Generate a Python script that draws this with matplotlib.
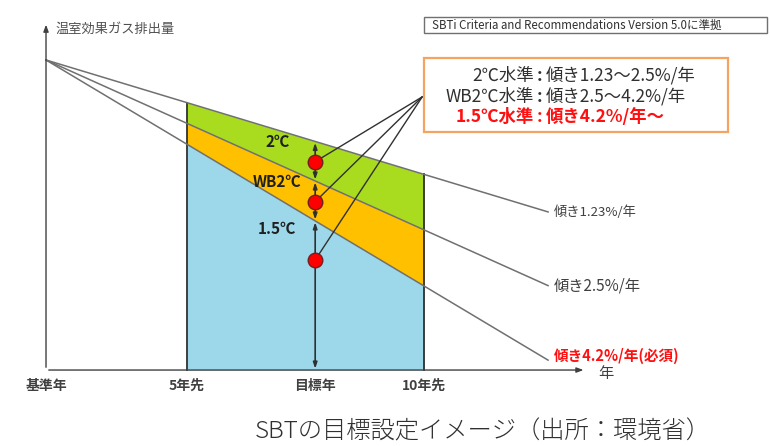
import numpy as np
import matplotlib.pyplot as plt
from matplotlib.patches import Rectangle

plt.rcParams['font.family'] = ['Noto Sans CJK JP', 'DejaVu Sans']

# x: 0 = base year, 10 = 10 years ahead (schematic spacing)
tick_pos = [0, 3.73, 7.12, 10]
tick_labels = ['基準年', '5年先', '目標年', '10年先']
base_level = 100
# emission level reached at x=10 for each pathway
level_at_10 = [63.1, 45.2, 27.1]
slope_labels = ['傾き1.23%/年', '傾き2.5%/年', '傾き4.2%/年(必須)']
line_end = 13.28
band_colors = ['#a9dc1e', '#ffc000', '#9dd8ea']
band_labels = ['2℃', 'WB2℃', '1.5℃']
dot_levels = [67.2, 54.3, 35.5]
legend_left = ['2℃水準', 'WB2℃水準', '1.5℃水準']
legend_right = ['傾き1.23～2.5%/年', '傾き2.5～4.2%/年', '傾き4.2%/年～']


def level(i, x):
    return base_level - (base_level - level_at_10[i]) * np.asarray(x) / 10


fig = plt.figure(figsize=(7.7, 4.46), dpi=100)
ax = fig.add_axes([0, 0, 1, 1])
ax.set_xlim(-1.217, 19.15)
ax.set_ylim(-24.5, 119.35)
ax.axis('off')

# coloured bands between 5年先 and 10年先
xs = np.linspace(tick_pos[1], tick_pos[3], 50)
ax.fill_between(xs, level(0, xs), level(1, xs), color=band_colors[0], lw=0, zorder=1)
ax.fill_between(xs, level(1, xs), level(2, xs), color=band_colors[1], lw=0, zorder=1)
ax.fill_between(xs, level(2, xs), 0, color=band_colors[2], lw=0, zorder=1)
for xv in [tick_pos[1], tick_pos[3]]:
    ax.plot([xv, xv], [0, level(0, xv)], color='#303030', lw=1.3, zorder=2)

# pathway lines
xl = np.array([0, line_end])
for i in range(3):
    ax.plot(xl, level(i, xl), color='#707070', lw=1.1, zorder=3)
ax.text(line_end + 0.15, level(0, line_end), slope_labels[0], fontsize=9.5,
        color='#404040', va='center', ha='left')
ax.text(line_end + 0.15, level(1, line_end), slope_labels[1], fontsize=11,
        color='#404040', va='center', ha='left')
ax.text(line_end + 0.15, level(2, line_end) + 1.5, slope_labels[2], fontsize=10.5,
        color='#ff1010', va='center', ha='left', weight='bold')

# axes arrows
ax.annotate('', xy=(0, 112.3), xytext=(0, 0),
            arrowprops=dict(arrowstyle='-|>,head_length=0.4,head_width=0.15', color='#404040', lw=1))
ax.annotate('', xy=(14.29, 0), xytext=(0, 0),
            arrowprops=dict(arrowstyle='-|>,head_length=0.4,head_width=0.15', color='#404040', lw=1))
ax.text(0.25, 110.0, '温室効果ガス排出量', fontsize=9.5, color='#505050', va='center', ha='left')
ax.text(14.6, -1.2, '年', fontsize=11, color='#404040', va='center', ha='left')
for p, lab in zip(tick_pos, tick_labels):
    ax.text(p, -5, lab, fontsize=10, color='#404040', ha='center', va='center', weight='bold')

# double-headed arrows at target year
tx = tick_pos[2]
ranges = [(level(0, tx), level(1, tx)), (level(1, tx), level(2, tx)), (level(2, tx), 0)]
for top, bot in ranges:
    ax.annotate('', xy=(tx, top), xytext=(tx, bot),
                arrowprops=dict(arrowstyle='<|-|>,head_length=0.35,head_width=0.12',
                                color='#303030', lw=1.2, shrinkA=1, shrinkB=1), zorder=4)
label_y = [73.5, 60.5, 45.5]
for ly, lab in zip(label_y, band_labels):
    ax.text(tx - 1.0, ly, lab, fontsize=11, weight='bold', color='#202020',
            ha='center', va='center', zorder=5)

# leader lines and dots
hub = (9.95, 88.1)
for dy in dot_levels:
    ax.plot([tx, hub[0]], [dy, hub[1]], color='#303030', lw=1, zorder=5)
ax.scatter([tx] * 3, dot_levels, s=110, color='#ff0000', edgecolor='#702020', lw=1, zorder=6)

# legend box
fig.patches.append(Rectangle((424 / 770, 1 - 132 / 446), 304 / 770, 74 / 446,
                             transform=fig.transFigure, fill=False,
                             edgecolor='#f4a460', lw=1.6))
box_y = [76, 97, 117]
for k in range(3):
    col = '#ff1010' if k == 2 else '#303030'
    wt = 'bold' if k == 2 else 'normal'
    yy = 1 - box_y[k] / 446
    fig.text(534 / 770, yy, legend_left[k], fontsize=12.5, color=col, weight=wt, ha='right', va='center')
    fig.text(540 / 770, yy, ':', fontsize=12.5, color=col, weight='bold', ha='center', va='center')
    fig.text(546 / 770, yy, legend_right[k], fontsize=12.5, color=col, weight=wt, ha='left', va='center')

# source box
fig.patches.append(Rectangle((424 / 770, 1 - 33 / 446), 343 / 770, 16 / 446,
                             transform=fig.transFigure, fill=False,
                             edgecolor='#707070', lw=1))
fig.text(432 / 770, 1 - 25 / 446, 'SBTi Criteria and Recommendations Version 5.0に準拠',
         fontsize=8.3, color='#303030', ha='left', va='center')

fig.text(483 / 770, 1 - 432 / 446, 'SBTの目標設定イメージ（出所：環境省）',
         fontsize=17.5, color='#303030', ha='center', va='center', weight='light')

fig.savefig('out.png', dpi=100)
